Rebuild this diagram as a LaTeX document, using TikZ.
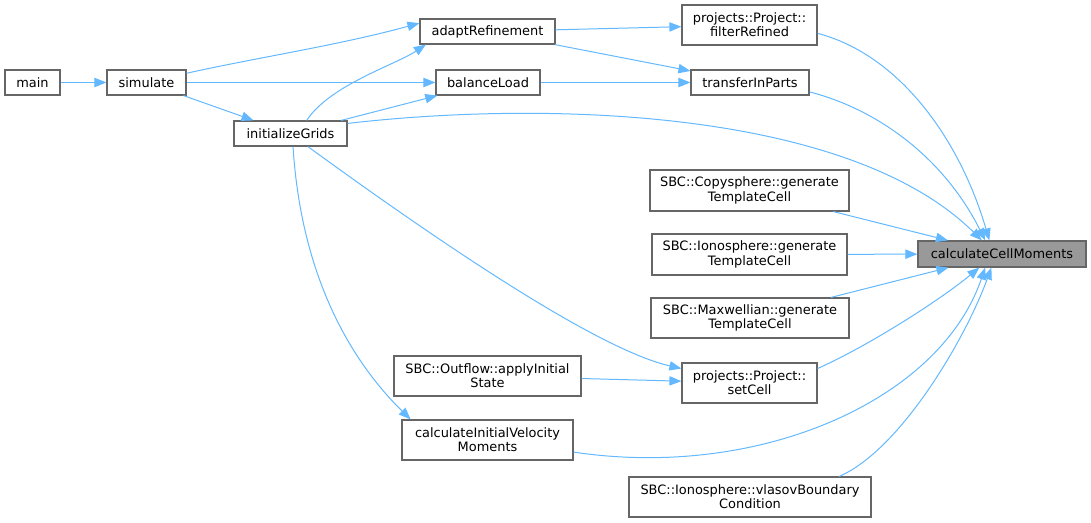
\documentclass[tikz,border=0pt]{standalone}
\usepackage{fontspec}
\setmainfont{DejaVu Sans}
\usetikzlibrary{arrows.meta}
\definecolor{callblue}{HTML}{63B8FF}
\definecolor{boxline}{HTML}{666666}
\definecolor{rootfill}{HTML}{999999}

\begin{document}
\begin{tikzpicture}[x=0.75pt, y=-0.75pt, font=\fontsize{9.7}{10.6}\selectfont,
		wd/.style={minimum width=#1*0.75pt},
		ht/.style={minimum height=#1*0.75pt}]
		\useasboundingbox (0,0) rectangle (1091,523);
		\begin{scope}[every node/.style={rectangle, draw=boxline, line width=0.9pt, fill=white, inner sep=0pt, align=center, minimum height=18.75pt}]
			\node[wd=55] (main) at (32.5,82.5) {main};
			\node[wd=79] (sim) at (146.5,82.5) {simulate};
			\node[wd=113] (init) at (290.5,133.5) {initializeGrids};
			\node[wd=135] (adapt) at (487.5,31.5) {adaptRefinement};
			\node[wd=104] (balance) at (488,82.5) {balanceLoad};
			\node[wd=135, ht=40] (filter) at (749.5,25) {projects::Project::\\filterRefined};
			\node[wd=118] (transfer) at (750,82.5) {transferInParts};
			\node[wd=199, ht=41] (copy) at (749.5,190.5) {SBC::Copysphere::generate\\TemplateCell};
			\node[wd=195, ht=41] (iono) at (749.5,254.5) {SBC::Ionosphere::generate\\TemplateCell};
			\node[wd=198, ht=40] (maxw) at (750,318) {SBC::Maxwellian::generate\\TemplateCell};
			\node[wd=187, ht=40] (outflow) at (487.5,376) {SBC::Outflow::applyInitial\\State};
			\node[wd=135, ht=40] (setcell) at (749.5,383) {projects::Project::\\setCell};
			\node[wd=171, ht=40] (initvel) at (487.5,440) {calculateInitialVelocity\\Moments};
			\node[wd=242, ht=40] (vlasov) at (750,497) {SBC::Ionosphere::vlasovBoundary\\Condition};
			\node[wd=168, ht=26, fill=rootfill] (cellmom) at (1002,254) {calculateCellMoments};
		\end{scope}
		\begin{scope}[every path/.style={callblue, line width=0.75pt, -{Triangle[length=9pt, width=7pt]}}]
			\path (main) edge (sim);
			\path (sim)
				edge (balance)
				edge (init);
			\draw (sim.13) .. controls (260,57) and (340,45) .. (adapt.173);
			\path (init) edge (balance);
			\draw (init.39) .. controls (330,85) and (395,65) .. (adapt.192);
			\draw (init.10) .. controls (550,100) and (850,110) .. (cellmom.146);
			\draw (init.-37) .. controls (450,250) and (600,350) .. (setcell.168);
			\draw (init.-79) .. controls (300,260) and (340,350) .. (initvel.165);
			\path (adapt)
				edge (filter)
				edge (transfer);
			\path (balance) edge (transfer);
			\draw (filter.-7) .. controls (900,55) and (960,140) .. (cellmom.133);
			\draw (transfer.-9) .. controls (880,110) and (945,160) .. (cellmom.141);
			\path (copy) edge (cellmom);
			\path (iono) edge (cellmom);
			\path (maxw) edge (cellmom);
			\path (outflow) edge (setcell);
			\draw (setcell.12) .. controls (870,345) and (940,300) .. (cellmom.211);
			\draw (initvel.-8) .. controls (760,480) and (940,400) .. (cellmom.219);
			\draw (vlasov.13) .. controls (900,450) and (965,340) .. (cellmom.232);
		\end{scope}
	\end{tikzpicture}
\end{document}
